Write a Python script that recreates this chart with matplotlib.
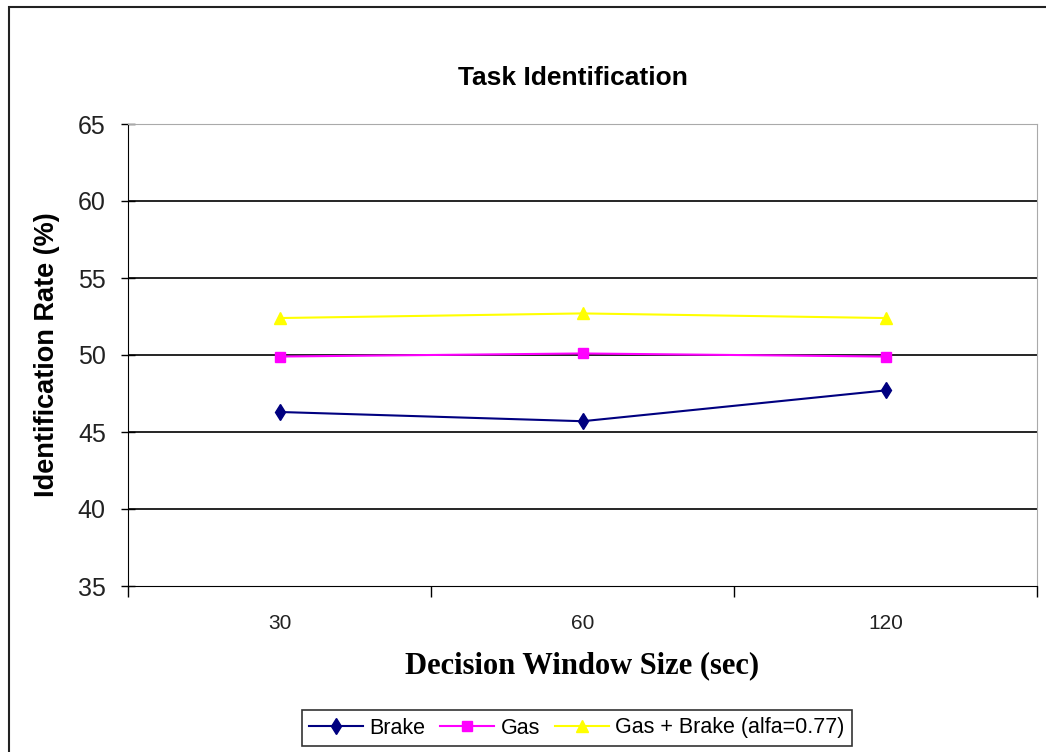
import matplotlib.pyplot as plt
from matplotlib.patches import Rectangle

plt.rcParams['font.family'] = ['Liberation Sans', 'DejaVu Sans']

# data
windows = ['30', '60', '120']
brake = [46.3, 45.7, 47.7]
gas = [49.9, 50.1, 49.9]
gas_brake = [52.4, 52.7, 52.4]

fig = plt.figure(figsize=(10.46, 7.52), dpi=100)
fig.patch.set_facecolor('white')

# outer chart frame (runs off the right and bottom edge)
fig.add_artist(Rectangle((9 / 1046, -0.05), 1.2, 0.05 + (752 - 7) / 752,
                         transform=fig.transFigure, fill=False,
                         edgecolor='#222222', linewidth=1.5))

ax = fig.add_axes([128 / 1046, 1 - 586 / 752, (1037 - 128) / 1046, (586 - 124) / 752])

x = list(range(len(windows)))
ax.plot(x, brake, color='#000080', marker='d', markersize=8.5, linewidth=1.5, label='Brake')
ax.plot(x, gas, color='#FF00FF', marker='s', markersize=7, linewidth=1.5, label='Gas')
ax.plot(x, gas_brake, color='#FFFF00', marker='^', markersize=9, linewidth=1.5,
        label='Gas + Brake (alfa=0.77)')

ax.set_xlim(-0.5, 2.5)
ax.set_ylim(35, 65)
ax.set_yticks(range(35, 66, 5))
ax.set_xticks(x)
ax.set_xticklabels(windows)
ax.set_xticks([-0.5, 0.5, 1.5, 2.5], minor=True)
ax.tick_params(axis='x', which='major', length=0, pad=20, labelsize=15, labelcolor='#222222')
ax.tick_params(axis='x', which='minor', length=8, direction='out', width=1)
ax.tick_params(axis='y', length=10, direction='inout', width=1, labelsize=18,
               labelcolor='#222222', pad=11)

for v in range(40, 65, 5):
    ax.axhline(v, color='black', linewidth=1.2, zorder=0)

ax.spines['top'].set_color('#aaaaaa')
ax.spines['right'].set_color('#aaaaaa')
ax.spines['left'].set_color('black')
ax.spines['bottom'].set_color('black')

fig.text(573 / 1046, 1 - 78 / 752, 'Task Identification', ha='center', va='center',
         fontsize=19, fontweight='bold')
ax.set_ylabel('Identification Rate (%)', fontsize=19.5, fontweight='bold', labelpad=13)
ax.set_xlabel('Decision Window Size (sec)', fontsize=22, fontweight='bold',
              family='Liberation Serif', labelpad=13)

leg = fig.legend(loc='center', bbox_to_anchor=(577 / 1046, 1 - 728 / 752), ncol=3,
                 frameon=True, fancybox=False, edgecolor='black',
                 handlelength=2.5, handletextpad=0.3, columnspacing=0.7,
                 borderpad=0.35, prop={'family': 'Liberation Sans', 'size': 15.5})
leg.get_frame().set_linewidth(1.2)

fig.savefig('out.png', dpi=100)
